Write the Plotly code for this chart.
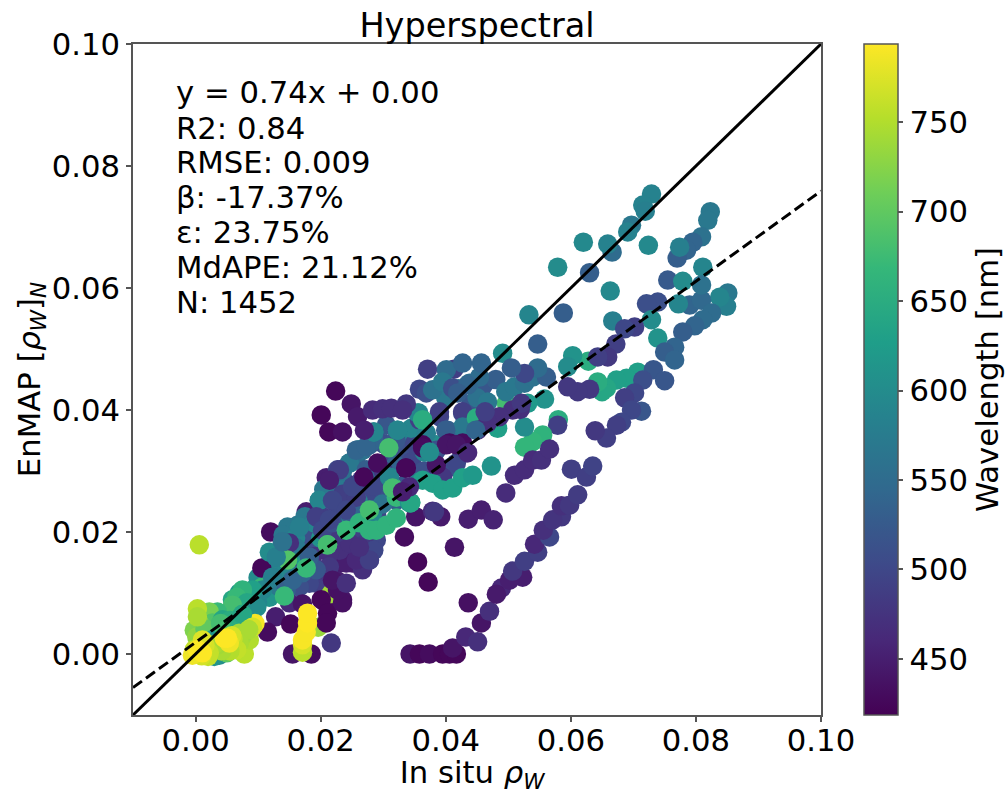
import plotly.graph_objects as go

# each point: (in situ rho_w, EnMAP rho_w, wavelength nm)
upper_teal = [
(.0729,.0754,585),(.0715,.0736,585),(.0719,.0726,580),(.0697,.0703,570),(.0691,.0692,585),
(.0666,.0659,550),(.0659,.0672,585),(.0620,.0675,595),(.0724,.0670,595),(.0579,.0634,600),
(.0630,.0625,530),(.0663,.0595,595),(.0533,.0556,590),(.0588,.0559,530),(.0547,.0508,530),
(.0491,.0493,600),(.0667,.0546,580)]
right_cluster = [
(.0823,.0725,570),(.0819,.0711,570),(.0809,.0684,560),(.0795,.0675,540),(.0785,.0662,540),
(.0770,.0649,530),(.0774,.0667,580),(.0811,.0634,590),(.0755,.0613,525),(.0779,.0611,600),
(.0851,.0592,570),(.0849,.0570,580),(.0838,.0585,590),(.0790,.0572,540),(.0772,.0574,590),
(.0809,.0580,545),(.0809,.0605,560),(.0739,.0577,510),(.0721,.0574,510),(.0729,.0548,600),
(.0825,.0559,550),(.0811,.0548,550),(.0798,.0538,540),(.0779,.0528,530),(.0702,.0536,490),
(.0686,.0533,500),(.0739,.0518,610),(.0672,.0508,490),(.0766,.0503,540),(.0750,.0495,530),
(.0766,.0482,540)]
mid_band = [
(.0628,.0480,650),(.0603,.0489,610),(.0595,.0471,600),(.0659,.0487,480),(.0643,.0487,490),
(.0707,.0462,630),(.0689,.0452,630),(.0673,.0449,630),(.0657,.0436,640),(.0650,.0430,640),
(.0643,.0446,650),(.0732,.0466,520),(.0750,.0448,520),(.0715,.0449,510),(.0630,.0434,480),
(.0611,.0430,480),(.0595,.0438,480),(.0702,.0428,500),(.0686,.0420,490),(.0713,.0398,520),
(.0697,.0400,500),(.0681,.0380,500),(.0673,.0375,490),(.0657,.0354,490),(.0639,.0366,480),
(.0580,.0384,650),(.0579,.0375,490),(.0555,.0359,660),(.0539,.0348,665),(.0526,.0339,665),
(.0526,.0372,600)]
lower_chain = [
(.0343,.0,440),(.0358,.0,425),(.0374,.0,430),(.0395,.0,425),(.0406,.0,425),(.0417,.0,425),
(.0411,.0010,440),(.0432,.0028,460),(.0451,.0020,470),(.0457,.0051,440),(.0470,.0070,470),
(.0436,.0084,435),(.0489,.0108,460),(.0481,.0098,445),(.0523,.0126,450),(.0502,.0121,450),
(.0507,.0136,480),(.0526,.0152,490),(.0547,.0167,490),(.0542,.0180,460),(.0566,.0192,500),
(.0556,.0203,470),(.0585,.0225,480),(.0571,.0220,475),(.0585,.0243,470),(.0598,.0244,480),
(.0611,.0261,485),(.0601,.0303,490),(.0625,.0290,490),(.0635,.0308,495)]
lower_mid = [
(.0414,.0175,440),(.0355,.0151,425),(.0372,.0118,425),(.0334,.0192,430),(.0352,.0225,440),
(.0379,.0234,465),(.0392,.0225,445),(.0436,.0221,450),(.0457,.0236,450),(.0476,.0220,455),
(.0496,.0264,465),(.0510,.0293,465),(.0526,.0302,465),(.0539,.0318,465),(.0553,.0318,470),
(.0566,.0336,470),(.0473,.0308,610),(.0382,.0233,480)]
core_back = [
(.0497,.0411,680),(.0454,.0389,630),(.0309,.0338,680),(.0358,.0379,640),(.0347,.0351,580),
(.0483,.0370,630),(.0347,.0307,680),(.0333,.0305,425),(.0558,.0418,610),(.0531,.0411,620),
(.0240,.0200,490),(.0177,.0170,520),(.0150,.0175,470),(.0171,.0175,480),(.0193,.0187,500),
(.0214,.0203,500),(.0203,.0225,490),(.0241,.0225,490),(.0267,.0192,480),(.0289,.0187,500),
(.0262,.0149,460),(.0278,.0154,490),(.0241,.0159,450),(.0251,.0149,450),(.0230,.0149,445),
(.0193,.0116,490),(.0171,.0116,490),(.0134,.0110,500),(.0150,.0126,520),(.0182,.0149,670),
(.0278,.0269,520),(.0321,.0313,520),(.0246,.0248,550),(.0225,.0220,560),(.0198,.0192,570),
(.0177,.0170,560),(.0267,.0248,560),(.0315,.0257,550),(.0310,.0290,590),(.0257,.0225,600),
(.0214,.0215,590),(.0241,.0280,490),(.0209,.0289,450),(.0227,.0302,500),(.0257,.0323,550),
(.0278,.0343,540),(.0267,.0334,560),(.0246,.0313,570),(.0225,.0280,570),(.0198,.0252,580),
(.0222,.0249,490),(.0177,.0233,450),(.0193,.0223,500),(.0163,.0211,570),(.0147,.0208,570),
(.0120,.0200,430),(.0139,.0184,460)]
body_purple = [
(.0225,.0121,450),(.0230,.0105,445),(.0235,.0089,440),(.0214,.0093,430),(.0150,.0084,460),
(.0241,.0149,450),(.0267,.0138,470),(.0257,.0154,460),(.0278,.0154,490),(.0230,.0170,470),
(.0214,.0165,470),(.0246,.0182,470),(.0262,.0175,470),(.0225,.0198,480),(.0193,.0225,490),
(.0219,.0252,500),(.0150,.0182,470),(.0203,.0138,480),(.0214,.0143,480),(.0182,.0116,500),
(.0166,.0110,510),(.0145,.0105,530),(.0193,.0138,520),(.0171,.0133,540),(.0155,.0121,540),
(.0182,.0159,530),(.0203,.0203,500),(.0219,.0215,510),(.0246,.0231,530),(.0262,.0236,540),
(.0257,.0257,490),(.0241,.0236,500),(.0214,.0220,500),(.0251,.0274,500),(.0230,.0302,490),
(.0214,.0285,450),(.0273,.0302,530),(.0257,.0334,540),(.0273,.0340,540),(.0321,.0252,530),
(.0299,.0246,560),(.0390,.0389,500),(.0358,.0384,490),(.0427,.0395,510),(.0438,.0444,550),
(.0433,.0330,490),(.0385,.0307,510),(.0410,.0307,510),(.0380,.0290,490),(.0330,.0275,520),
(.0345,.0315,500),(.0365,.0300,510),(.0300,.0300,480),(.0285,.0275,500)]
body_fill = [
(.0155,.0155,480),(.0165,.0150,490),(.0190,.0165,470),(.0205,.0175,480),(.0185,.0190,510),
(.0235,.0185,480),(.0255,.0205,490),(.0275,.0215,500),(.0290,.0225,500),(.0250,.0175,475),
(.0270,.0180,480),(.0285,.0170,500),(.0230,.0225,500),(.0250,.0250,510),(.0235,.0262,490),
(.0280,.0260,500),(.0300,.0270,510),(.0265,.0285,500),(.0290,.0305,510),(.0315,.0320,500),
(.0335,.0330,510),(.0350,.0345,500),(.0370,.0350,510),(.0390,.0340,500),(.0410,.0360,510),
(.0440,.0410,520),(.0460,.0440,520),(.0480,.0450,530),(.0300,.0345,510),(.0320,.0350,520)]
teal_fill = [
(.0140,.0195,570),(.0175,.0225,570),(.0205,.0270,570),(.0235,.0300,560),(.0260,.0335,570),
(.0285,.0350,540),(.0305,.0375,520),(.0160,.0190,590),(.0190,.0215,590),(.0120,.0150,590),
(.0100,.0125,600),(.0085,.0100,610),(.0110,.0110,600),(.0140,.0130,610),(.0170,.0160,620),
(.0200,.0190,610),(.0230,.0210,600),(.0260,.0250,590),(.0290,.0280,560),(.0320,.0310,540)]
body_teal = [
(.0106,.0105,600),(.0118,.0093,610),(.0099,.0085,590),(.0083,.0051,600),(.0123,.0138,590),
(.0145,.0138,590),(.0134,.0110,570),(.0161,.0174,570),(.0198,.0252,590),(.0283,.0236,570),
(.0246,.0313,570),(.0366,.0331,590),(.0310,.0290,590),(.0283,.0231,590),(.0166,.0208,580),
(.0129,.0159,580),(.0345,.0370,590),(.0400,.0420,570),(.0420,.0435,560),(.0450,.0420,560),
(.0355,.0300,590)]
teal_line = [
(.0285,.0364,590),(.0323,.0367,590),(.0357,.0395,590),(.0413,.0467,490),(.0371,.0467,490),
(.0401,.0466,550),(.0358,.0434,500),(.0369,.0428,510),(.0379,.0433,560),(.0395,.0446,570),
(.0411,.0436,510),(.0390,.0397,490),(.0337,.0405,470),(.0355,.0395,590),(.0427,.0477,540),
(.0454,.0454,550),(.0435,.0441,540),(.0419,.0428,530),(.0467,.0413,570),(.0496,.0430,570),
(.0510,.0438,570),(.0526,.0444,560),(.0539,.0454,560),(.0561,.0454,530),(.0547,.0469,550),
(.0526,.0460,500),(.0505,.0469,530),(.0457,.0477,540),(.0427,.0397,490),(.0403,.0367,540),
(.0427,.0372,570),(.0385,.0343,600)]
purple_top = [
(.0224,.0431,425),(.0249,.0410,440),(.0201,.0392,425),(.0213,.0364,425),(.0235,.0364,435),
(.0259,.0389,445),(.0270,.0367,450),(.0283,.0400,465),(.0299,.0402,470),(.0313,.0403,470),
(.0337,.0410,480),(.0331,.0400,470)]
pale_diag = [
(.0309,.0338,680),(.0285,.0364,590),(.0323,.0367,590),(.0400,.0367,530),(.0369,.0362,580),
(.0385,.0334,510),(.0406,.0346,430),(.0427,.0346,430),(.0449,.0387,650),(.0395,.0290,480),
(.0417,.0313,500),(.0377,.0331,530),(.0344,.0248,640),(.0321,.0257,670),(.0315,.0274,670),
(.0363,.0384,650),(.0363,.0343,425),(.0366,.0331,590),(.0310,.0290,590),(.0315,.0272,680)]
green_band = [
(.0363,.0285,630),(.0379,.0280,630),(.0395,.0269,630),(.0411,.0272,630),(.0427,.0289,630),
(.0443,.0293,620),(.0342,.0248,610),(.0241,.0203,670),(.0262,.0215,660),(.0278,.0203,660),
(.0289,.0203,660),(.0305,.0211,660),(.0321,.0223,660),(.0344,.0248,640),(.0211,.0179,680),
(.0147,.0154,690),(.0142,.0095,670),(.0107,.0110,670),(.0082,.0077,670),(.0177,.0141,670),
(.0278,.0236,680)]
dark_mid = [
(.0519,.0401,470),(.0507,.0400,470),(.0486,.0389,470),(.0467,.0379,470),(.0451,.0367,470),
(.0521,.0411,480),(.0401,.0343,440),(.0417,.0343,440),(.0435,.0330,460),(.0385,.0310,440),
(.0337,.0305,425),(.0363,.0338,430),(.0291,.0313,430),(.0269,.0290,425),(.0336,.0305,425),
(.0374,.0331,600),(.0342,.0274,460),(.0331,.0266,450),(.0463,.0397,490),(.0448,.0367,540)]
dark_low = [
(.0217,.0099,740),(.0196,.0044,735),(.0128,.0061,450),(.0152,.0049,425),(.0115,.0036,430),
(.0171,.0082,440),(.0211,.0179,680),(.0201,.0089,425),(.0211,.0067,425),(.0209,.0051,425),
(.0235,.0084,435),(.0227,.0105,435),(.0219,.0121,440),(.0241,.0116,470),(.0217,.0018,480),
(.0155,.0,440),(.0185,.0,430),(.0106,.0141,425)]
low_cluster = [
(.0118,.0167,600),(.0107,.0105,590),(.0123,.0126,580),(.0059,.0089,640),(.0070,.0100,620),
(.0091,.0105,630),(.0075,.0105,660),(.0066,.0093,670),(.0082,.0084,640),(.0059,.0080,680),
(.0098,.0077,600),(.0091,.0056,600),(.0082,.0044,600),(.0095,.0050,790),(.0129,.0159,580),
(.0139,.0184,560),(.0035,.0069,670),(.0022,.0069,715),(.0003,.0074,755),(.0027,.0051,690),
(.0043,.0056,640),(.0006,.0051,720),(-.0002,.0039,720),(.0002,.0028,730),(.0027,.0028,640),
(.0038,-.0002,600),(.0050,.0002,700),(.0015,.0041,700),(.0040,.0012,600),(.0030,.0025,610),
(.0045,.0035,640),(.0060,.0045,600),(.0070,.0050,590),(.0055,.0055,650),(.0075,.0065,640),
(.0040,.0050,680),(.0003,.0061,745),(.0030,-.0004,610),(.0078,.0,755),(.0086,.0023,750),
(.0091,.0044,770),(.0070,.0034,740),(.0075,.0030,740),(.0085,.0040,745),(.0070,.0018,745),
(.0066,.0007,760),(.0055,.0005,750),(.0042,.0005,745),(.0035,.0015,740),(.0030,.0015,745),
(.0060,.0025,760),(.0058,.0030,770),(.0022,.0002,760),(.0020,-.0004,760),(.0010,-.0003,770),
(.0015,.0014,770),(.0007,.0012,760),(.0006,.0179,755)]
yellow_top = [
(.0171,.0003,755),(.0171,.0015,770),(.0171,.0023,790),(.0177,.0036,790),(.0179,.0051,793),
(.0179,.0067,793),(-.0002,.0007,760),(-.0005,-.0002,785),(.0011,.0023,775),(.0054,.0018,785),
(.0011,.0002,793),(.0003,.0007,793),(.0046,.0026,793),(.0051,.0026,793)]

identity_x = [-0.01, 0.10]
identity_y = [-0.01, 0.10]
fit_x = [-0.01, 0.10]
fit_y = [-0.0055, 0.0759]

stats = ["y = 0.74x + 0.00", "R2: 0.84", "RMSE: 0.009", "β: -17.37%", "ε: 23.75%", "MdAPE: 21.12%", "N: 1452"]
stat_y = [0.0920, 0.0862, 0.0805, 0.0748, 0.0691, 0.0634, 0.0577]
ticks = [0.00, 0.02, 0.04, 0.06, 0.08, 0.10]
wl_ticks = [450, 500, 550, 600, 650, 700, 750]

points = (upper_teal + right_cluster + mid_band + lower_chain + lower_mid + core_back + body_fill
          + teal_fill + body_teal + body_purple + teal_line + pale_diag + purple_top + green_band
          + dark_mid + dark_low + low_cluster + yellow_top)
xs = [p[0] for p in points]
ys = [p[1] for p in points]
wl = [p[2] for p in points]

FONT = "DejaVu Sans"
FS = 30.7
AX = "#555555"
base = dict(size=FS, family=FONT, color="black")
fig = go.Figure()
fig.add_trace(go.Scatter(
    x=xs, y=ys, mode="markers", showlegend=False,
    marker=dict(size=19.5, color=wl, colorscale="Viridis", cmin=418.7, cmax=793.6, line=dict(width=0),
                colorbar=dict(x=1.0625, xanchor="left", xpad=0, ypad=0, len=1, thickness=34,
                              outlinewidth=1.5, outlinecolor=AX, ticks="outside", ticklen=5,
                              tickcolor=AX, tickwidth=1.5, tickvals=wl_ticks, tickfont=base,
                              title=dict(text="Wavelength [nm]", side="right", font=base)))))
fig.add_trace(go.Scatter(x=identity_x, y=identity_y, mode="lines", showlegend=False,
                         line=dict(color="black", width=3)))
fig.add_trace(go.Scatter(x=fit_x, y=fit_y, mode="lines", showlegend=False,
                         line=dict(color="black", width=3, dash="11px,5px")))
for s, yy in zip(stats, stat_y):
    fig.add_annotation(x=-0.0034, y=yy, text=s, showarrow=False, xanchor="left", yanchor="middle",
                       font=base)
axis = dict(range=[-0.01, 0.10], tickvals=ticks, tickformat=".2f", ticks="outside", ticklen=5,
            tickcolor=AX, tickwidth=1.5, linecolor=AX, linewidth=1.5, mirror=True, showline=True,
            showgrid=False, zeroline=False, tickfont=base)
fig.update_xaxes(**axis, ticklabelstandoff=-8,
                 title=dict(text="In situ <i>ρ</i><sub><i>W</i></sub>&nbsp;", standoff=12, font=base))
fig.update_yaxes(**axis, title=dict(text="EnMAP [<i>ρ</i><sub><i>W</i></sub>]<sub><i>N</i></sub>",
                                    standoff=2, font=base))
fig.update_layout(
    width=1005, height=794, plot_bgcolor="white", paper_bgcolor="white",
    margin=dict(l=133, r=184, t=44, b=79, autoexpand=False),
    title=dict(text="Hyperspectral", x=477/1005, xanchor="center", y=0.968, yanchor="middle",
               font=dict(size=33.5, family=FONT, color="black")),
)
fig.write_html("out.html", config=dict(displayModeBar=False),
               post_script="document.body.style.margin='0';")
